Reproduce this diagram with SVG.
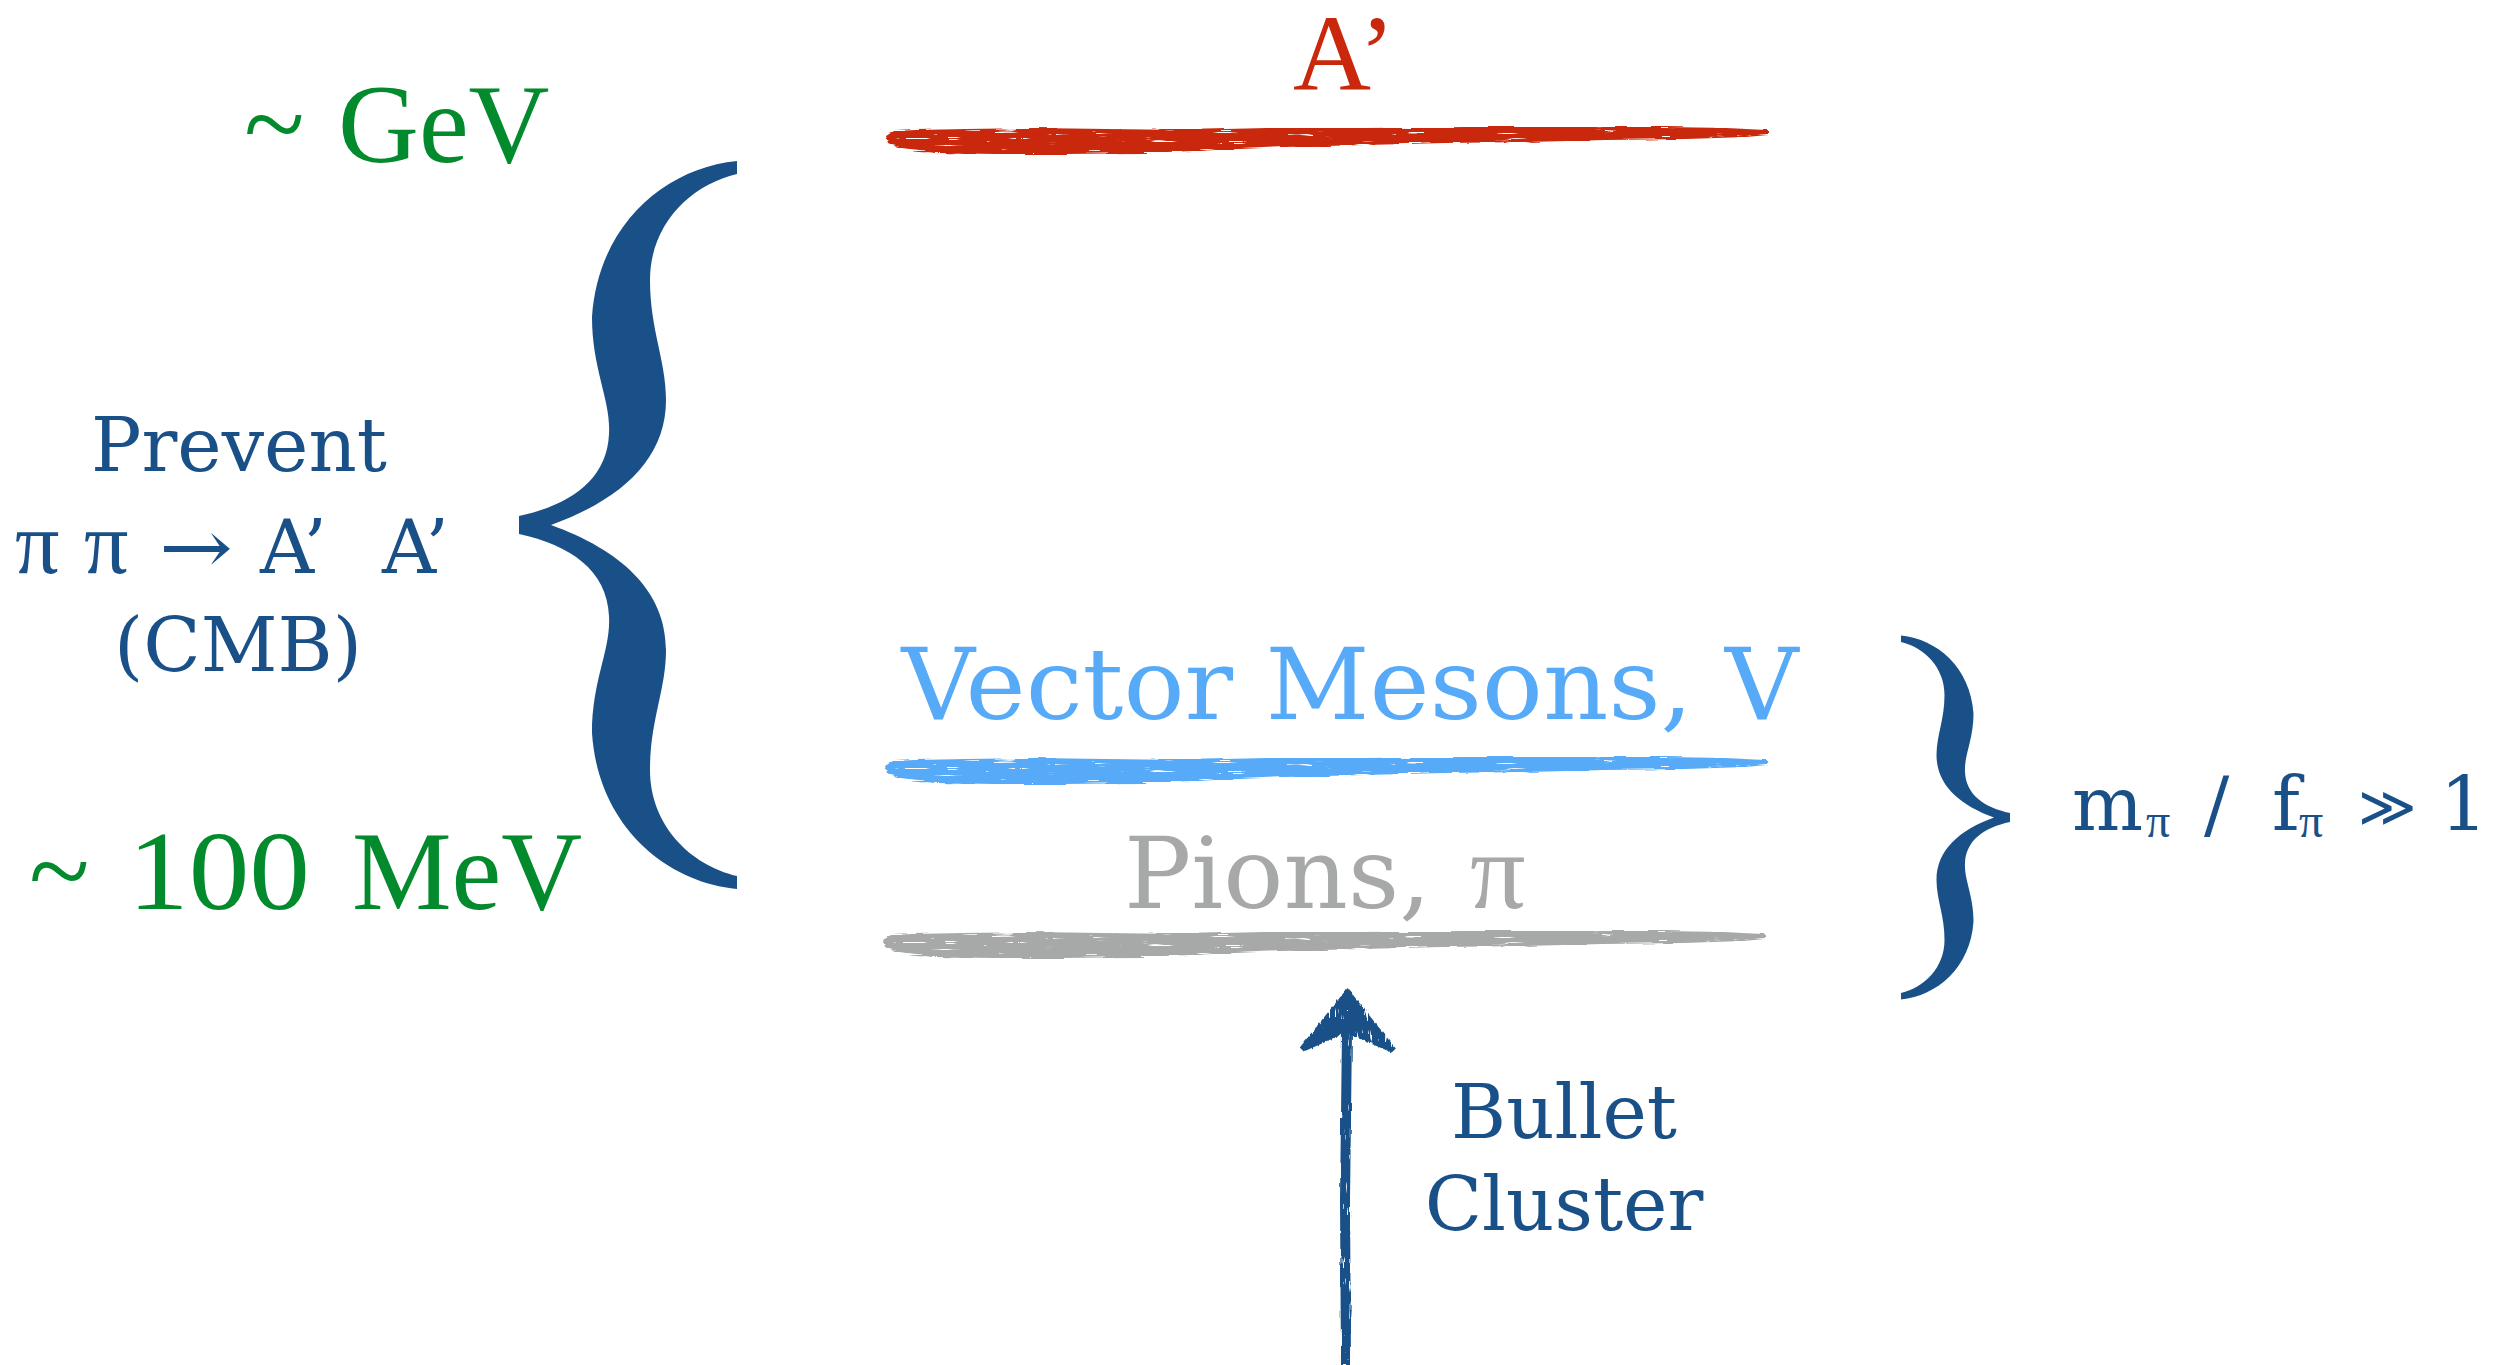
<svg xmlns="http://www.w3.org/2000/svg" xmlns:xlink="http://www.w3.org/1999/xlink" width="2507" height="1365" viewBox="0 0 2507 1365">
<style>
.ser{font-family:"DejaVu Serif","Liberation Serif",serif;}
.tim{font-family:"Liberation Serif","DejaVu Serif",serif;}
.blue{fill:#1a5088;}
.green{fill:#028a2d;}
.red{fill:#c9280c;}
.lblue{fill:#56aaf7;}
.gray{fill:#a7a9a8;}
</style>
<defs>
<filter id="brush" x="-2%" y="-80%" width="104%" height="260%" color-interpolation-filters="sRGB">
<feTurbulence type="fractalNoise" baseFrequency="0.02 0.45" numOctaves="3" seed="7" result="n"/>
<feColorMatrix in="n" type="matrix" values="0 0 0 0 0  0 0 0 0 0  0 0 0 0 0  12 0 0 0 -3.5" result="holes"/>
<feComposite in="SourceGraphic" in2="holes" operator="in" result="cut"/>
<feDisplacementMap in="cut" in2="n" scale="5" xChannelSelector="G" yChannelSelector="R"/>
</filter>
<filter id="rough" filterUnits="userSpaceOnUse" x="1270" y="960" width="160" height="420" color-interpolation-filters="sRGB">
<feTurbulence type="fractalNoise" baseFrequency="0.5 0.04" numOctaves="2" seed="3" result="n"/>
<feColorMatrix in="n" type="matrix" values="0 0 0 0 0  0 0 0 0 0  0 0 0 0 0  12 0 0 0 -3.4" result="holes"/>
<feComposite in="SourceGraphic" in2="holes" operator="in" result="cut"/>
<feDisplacementMap in="cut" in2="n" scale="4" xChannelSelector="R" yChannelSelector="G"/>
</filter>
<path id="stroke" d="M0,-4 L8,-9 L30,-10 L80,-11 L150,-12 L220,-11 L300,-10 L380,-12 L480,-12 L580,-13 L680,-13 L780,-13 L840,-12 L882,-10 L882,-5 L860,-3 L800,-1 L720,0 L640,2 L560,3 L480,5 L400,7 L330,10 L260,13 L180,14 L110,14 L50,13 L15,9 L2,3 Z"/>
<path id="brace" d="M737,161 C665,168 598,225 592,317 C592,370 611,400 609,434 C607,480 570,505 519,516 L519,534 C570,545 607,570 609,616 C611,650 592,680 592,733 C598,825 665,882 737,889 L737,876 C690,865 650,825 650,770 C650,720 666,690 666,650 C666,590 620,550 551,525 C620,500 666,460 666,400 C666,360 650,330 650,280 C650,225 690,185 737,174 Z"/>
<marker id="head" markerUnits="userSpaceOnUse" viewBox="-30 -55 80 110" markerWidth="80" markerHeight="110" refX="0" refY="0" orient="auto">
<path d="M42,0 L-18,-47 L-22,-43 L-3,-1 L-22,45 L-18,49 Z" fill="#1a5088"/>
</marker>
</defs>
<rect width="2507" height="1365" fill="#ffffff"/>

<g id="label-gev"><text class="tim green" font-size="112"><tspan x="244" y="162">~</tspan><tspan x="338" y="162">GeV</tspan></text></g>
<g id="label-100mev"><text class="tim green" font-size="112"><tspan x="29" y="909">~</tspan><tspan x="128" y="909" textLength="182" lengthAdjust="spacingAndGlyphs">100</tspan><tspan x="352" y="909">MeV</tspan></text></g>

<g id="level-aprime">
<text class="tim red" font-size="108" x="1344" y="90" text-anchor="middle">A’</text>
<use xlink:href="#stroke" href="#stroke" x="886" y="140" class="red" filter="url(#brush)"/>
</g>
<g id="level-vector">
<text class="ser lblue" font-size="100" x="1350" y="719" text-anchor="middle" textLength="897" lengthAdjust="spacingAndGlyphs">Vector Mesons, V</text>
<use xlink:href="#stroke" href="#stroke" x="885" y="770" class="lblue" filter="url(#brush)"/>
</g>
<g id="level-pions">
<text class="ser gray" font-size="100" y="908"><tspan x="1124">Pions,</tspan><tspan class="tim" x="1470" font-size="110">π</tspan></text>
<use xlink:href="#stroke" href="#stroke" x="883" y="944" class="gray" filter="url(#brush)"/>
</g>

<g id="brace-left"><use xlink:href="#brace" href="#brace" class="blue"/></g>
<g id="brace-right"><use xlink:href="#brace" href="#brace" class="blue" transform="translate(2010,817.5) scale(-0.5,0.5) translate(-519,-525)"/></g>

<g id="label-prevent" class="ser blue" font-size="75">
<text x="239" y="471" text-anchor="middle">Prevent</text>
<text y="573"><tspan class="tim" x="15" font-size="88">π</tspan><tspan class="tim" x="84" font-size="88">π</tspan><tspan x="159" textLength="74" lengthAdjust="spacingAndGlyphs">→</tspan><tspan x="260">A’</tspan><tspan x="382">A’</tspan></text>
<text x="238" y="671" text-anchor="middle">(CMB)</text>
</g>

<g id="label-ratio" class="ser blue" font-size="75">
<text y="830"><tspan x="2072">m</tspan><tspan class="tim" x="2146" y="837" font-size="48">π</tspan><tspan x="2204" y="830">/</tspan><tspan x="2272">f</tspan><tspan class="tim" x="2299" y="837" font-size="48">π</tspan><tspan x="2358" y="826" font-size="56">≫</tspan><tspan x="2440" y="830">1</tspan></text>
</g>

<g id="label-bullet" class="ser blue" font-size="75">
<text x="1564" y="1138" text-anchor="middle">Bullet</text>
<text x="1564" y="1230" text-anchor="middle">Cluster</text>
</g>

<g id="connectors">
<path d="M1346,1365 L1345,1200 L1347,1030" fill="none" stroke="#1a5088" stroke-width="10" marker-end="url(#head)" filter="url(#rough)"/>
</g>
</svg>
